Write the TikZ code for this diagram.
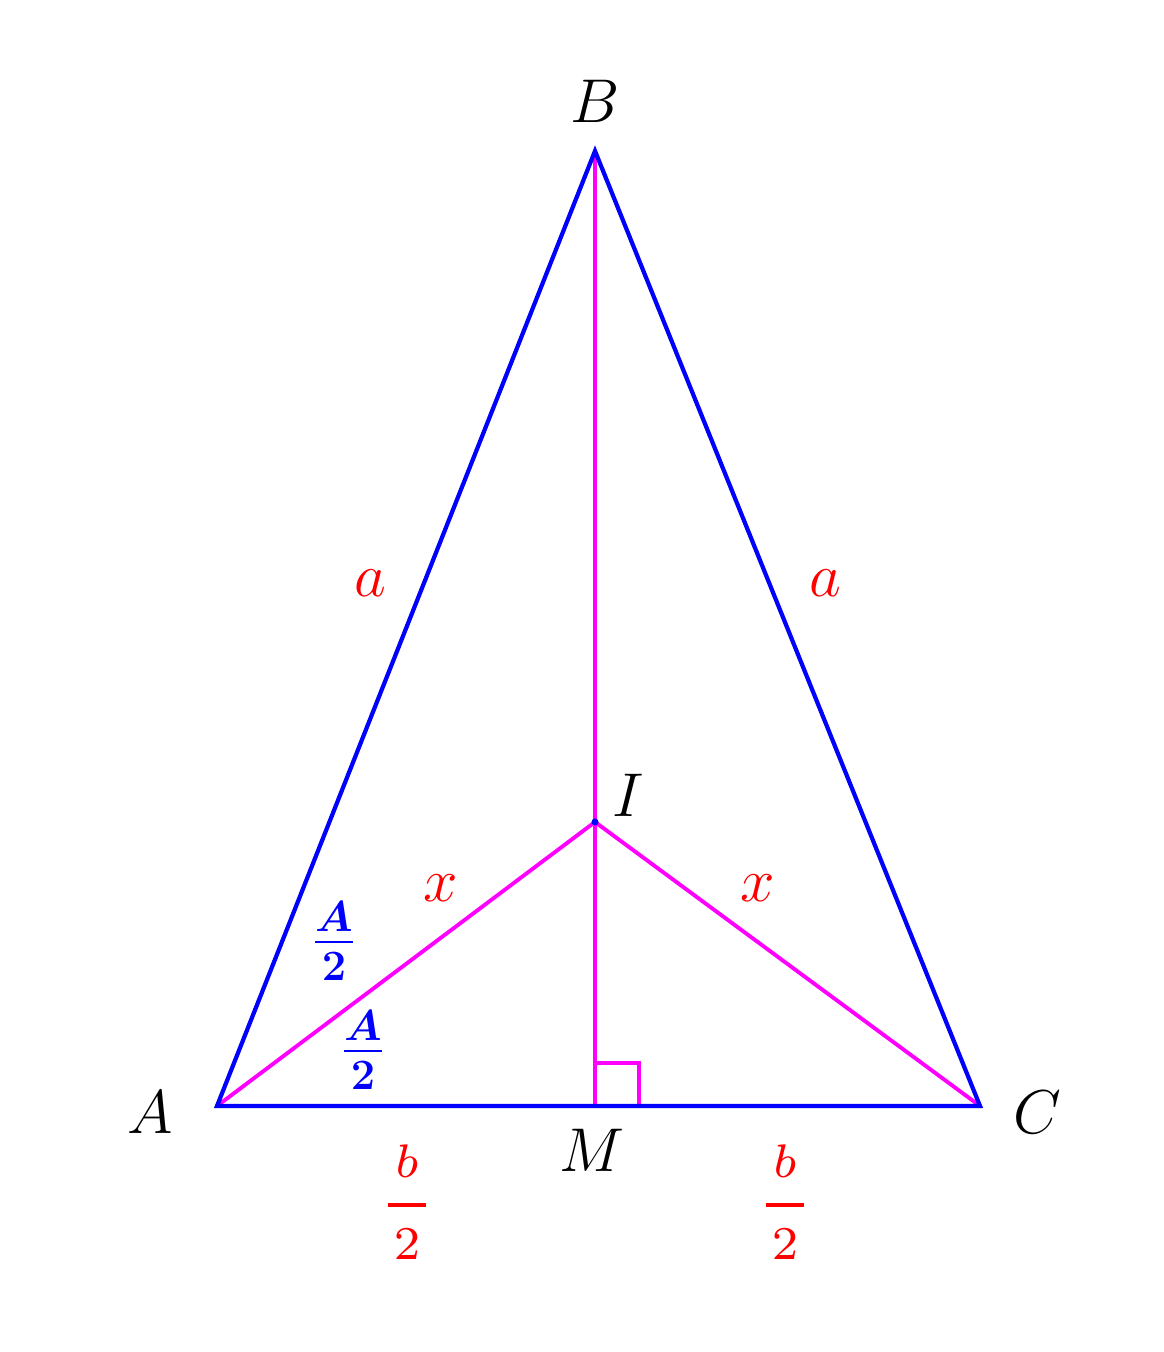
\documentclass[tikz,border=0pt]{standalone}
\usepackage{fix-cm}
\usepackage{amsmath}
\usepackage{tikz}
\usetikzlibrary{calc}

\definecolor{mag}{RGB}{255,0,255}
\tikzset{
  tri/.style={blue, line width=1.2pt},
  seg/.style={mag, line width=1.1pt},
  vlabel/.style={font=\fontsize{17.6}{21}\selectfont},
  slabel/.style={red, font=\fontsize{17.6}{21}\selectfont},
  half/.style={red, font=\fontsize{7}{8}\selectfont},
  angl/.style={blue, font=\fontsize{17.6}{21}\selectfont\boldmath}
}
\newcommand{\halfb}{\scalebox{1.914}{$\genfrac{}{}{0.52pt}{0}{b\vrule width0pt depth0.81mm}{\kern0.78pt\vrule width0pt height2.23mm 2\kern0.78pt}$}}

\begin{document}
\begin{tikzpicture}
		%%%%% START %%%%%
		\useasboundingbox (0, 0) rectangle (11.63, 13.52);
		
		\coordinate (A) at (2.17, 2.46);
		\coordinate (C) at (9.80, 2.46);
		\coordinate (B) at (5.95, 12.01);
		\coordinate (M) at (5.95, 2.46);
		\coordinate (I) at (5.95, 5.30);
		
		\draw[seg] (B) -- (M);
		\draw[seg] (A) -- (I) -- (C);
		\draw[seg] (M) rectangle ($(M)+(0.44, 0.43)$);
		\draw[tri, line join=miter] (A) -- (B) -- (C) -- cycle;
		\fill[blue] (I) circle (0.035);
		
		\node[vlabel] (labB) at (5.95, 12.51) {$B$};
		\node[vlabel] (labA) at (1.50, 2.40) {$A$};
		\node[vlabel] (labC) at (10.37, 2.40) {$C$};
		\node[vlabel] (labM) at (5.92, 2.02) {$M$};
		\node[vlabel] (labI) at (6.28, 5.57) {$I$};
		
		\node[slabel] (aleft) at (3.70, 7.69) {$a$};
		\node[slabel] (aright) at (8.25, 7.69) {$a$};
		\node[slabel] (xleft) at (4.41, 4.64) {$x$};
		\node[slabel] (xright) at (7.58, 4.64) {$x$};
		
		\node[angl] (hup) at (3.34, 4.11) {$\frac{A}{2}$};
		\node[angl] (hlow) at (3.63, 3.02) {$\frac{A}{2}$};
		
		\node[half] (bleft) at (4.07, 1.50) {\halfb};
		\node[half] (bright) at (7.85, 1.50) {\halfb};
		%%%%% END %%%%%
\end{tikzpicture}
\end{document}
